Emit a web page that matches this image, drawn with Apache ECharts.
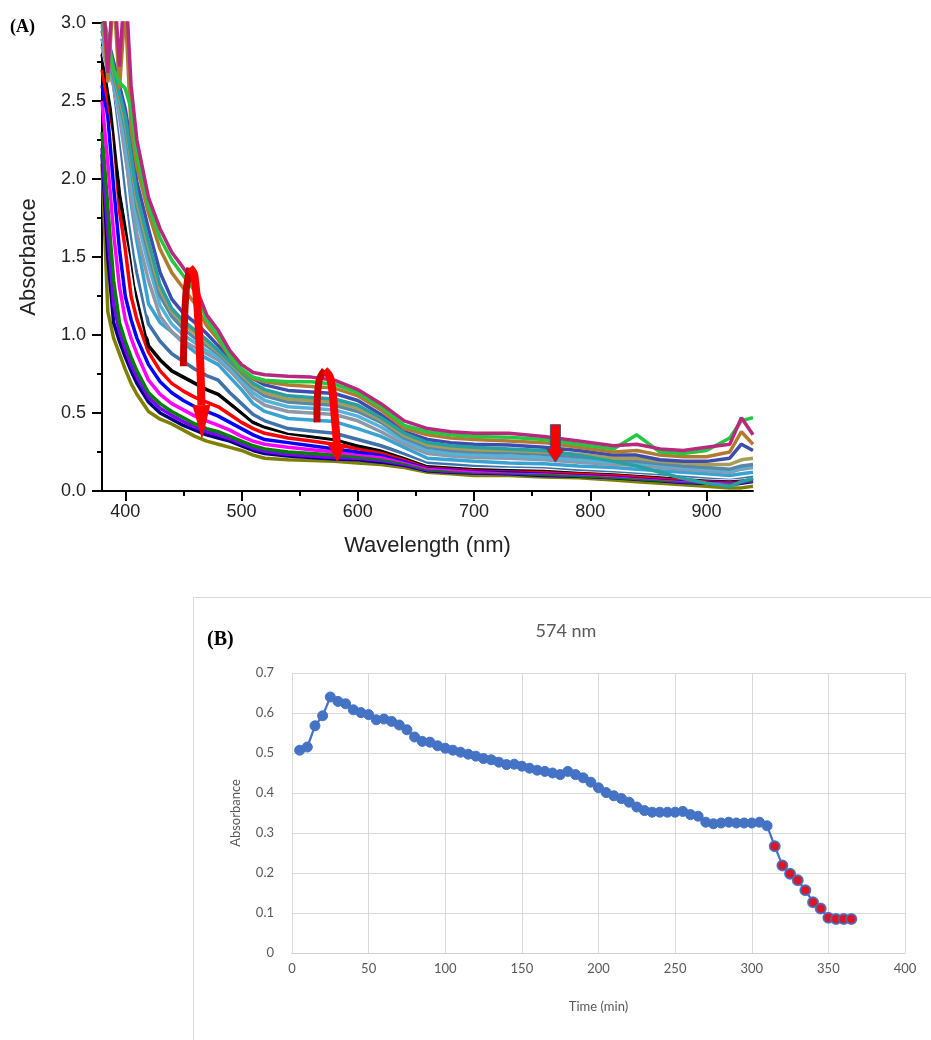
<!DOCTYPE html>
<html><head><meta charset="utf-8">
<script src="https://cdn.jsdelivr.net/npm/echarts@6/dist/echarts.min.js"></script>
<style>html,body{margin:0;padding:0;background:#fff}#c{width:931px;height:1040px}</style>
</head><body><div id="c"></div><script>
// ---------- Panel A: spectra ----------
const wavelengths = [380,385,390,395,400,405,410,420,430,440,450,460,470,480,490,500,510,520,540,560,580,600,620,640,660,680,700,730,760,790,820,840,860,880,900,920,930,940];
const absOlive  = [2.10,1.15,0.98,0.88,0.78,0.69,0.62,0.51,0.46,0.43,0.39,0.35,0.32,0.30,0.28,0.26,0.23,0.21,0.20,0.195,0.19,0.18,0.17,0.15,0.12,0.11,0.10,0.10,0.09,0.085,0.07,0.06,0.05,0.04,0.03,0.02,0.02,0.03];
const absNavy   = [2.16,1.50,1.08,0.96,0.86,0.77,0.69,0.57,0.50,0.46,0.42,0.39,0.36,0.34,0.32,0.29,0.26,0.24,0.225,0.215,0.205,0.20,0.185,0.165,0.13,0.12,0.115,0.11,0.10,0.095,0.085,0.075,0.065,0.055,0.05,0.04,0.05,0.06];
const absViolet = [2.20,1.65,1.20,1.02,0.91,0.81,0.73,0.60,0.53,0.485,0.445,0.41,0.38,0.36,0.335,0.305,0.275,0.255,0.235,0.225,0.215,0.21,0.195,0.172,0.135,0.125,0.12,0.115,0.105,0.10,0.09,0.08,0.07,0.06,0.055,0.045,0.055,0.065];
const absGreen  = [2.30,1.82,1.35,1.08,0.96,0.86,0.77,0.63,0.56,0.51,0.47,0.43,0.40,0.38,0.35,0.32,0.29,0.27,0.25,0.24,0.23,0.22,0.205,0.18,0.14,0.13,0.125,0.12,0.11,0.10,0.09,0.08,0.07,0.065,0.06,0.05,0.06,0.07];
const absMagenta= [2.50,2.10,1.65,1.31,1.10,0.98,0.88,0.71,0.62,0.56,0.52,0.48,0.45,0.42,0.39,0.35,0.32,0.30,0.28,0.265,0.25,0.235,0.22,0.19,0.15,0.14,0.13,0.125,0.12,0.11,0.10,0.09,0.08,0.07,0.065,0.06,0.07,0.08];
const absBlue   = [2.60,2.40,1.95,1.55,1.25,1.10,0.98,0.81,0.70,0.63,0.58,0.54,0.51,0.48,0.44,0.40,0.36,0.33,0.31,0.29,0.27,0.25,0.235,0.20,0.16,0.15,0.14,0.13,0.125,0.115,0.105,0.095,0.085,0.075,0.07,0.065,0.07,0.08];
const absRed    = [2.70,2.50,2.30,1.80,1.55,1.25,1.10,0.89,0.77,0.69,0.64,0.60,0.57,0.54,0.49,0.44,0.40,0.37,0.34,0.32,0.30,0.27,0.25,0.21,0.165,0.155,0.145,0.14,0.13,0.12,0.11,0.10,0.09,0.08,0.075,0.07,0.075,0.085];
const absBlack  = [2.80,2.60,2.31,1.90,1.70,1.50,1.25,0.93,0.84,0.77,0.73,0.69,0.65,0.62,0.56,0.50,0.44,0.41,0.37,0.35,0.33,0.29,0.265,0.22,0.17,0.16,0.15,0.145,0.14,0.13,0.12,0.11,0.10,0.09,0.08,0.075,0.08,0.09];
const absWhite1 = [2.85,2.68,2.45,2.10,1.82,1.58,1.32,1.00,0.90,0.82,0.78,0.73,0.69,0.66,0.59,0.53,0.465,0.43,0.385,0.368,0.35,0.31,0.278,0.23,0.178,0.168,0.158,0.152,0.148,0.135,0.125,0.115,0.105,0.095,0.085,0.08,0.085,0.095];
const absSteel  = [2.90,2.75,2.60,2.30,1.95,1.65,1.40,1.07,0.96,0.88,0.83,0.78,0.74,0.71,0.63,0.56,0.49,0.45,0.40,0.385,0.37,0.33,0.29,0.24,0.185,0.175,0.165,0.16,0.155,0.14,0.13,0.12,0.11,0.10,0.09,0.085,0.09,0.10];
const absWhite2 = [2.92,2.80,2.62,2.38,2.08,1.75,1.50,1.14,1.02,0.95,0.89,0.84,0.79,0.76,0.68,0.61,0.53,0.48,0.43,0.42,0.41,0.37,0.32,0.26,0.20,0.19,0.18,0.17,0.165,0.15,0.14,0.13,0.12,0.11,0.10,0.09,0.10,0.11];
const absLtBlue = [2.95,2.85,2.65,2.45,2.20,1.85,1.60,1.20,1.08,1.02,0.95,0.89,0.85,0.81,0.73,0.65,0.56,0.51,0.465,0.455,0.445,0.40,0.35,0.28,0.21,0.20,0.19,0.18,0.175,0.16,0.15,0.14,0.13,0.12,0.11,0.10,0.11,0.12];
const absGray   = [2.85,2.70,2.60,2.40,2.15,1.90,1.65,1.35,1.12,1.02,0.96,0.92,0.88,0.84,0.77,0.69,0.60,0.55,0.51,0.50,0.49,0.45,0.38,0.30,0.24,0.225,0.215,0.21,0.20,0.185,0.17,0.165,0.15,0.14,0.13,0.12,0.14,0.15];
const absSky    = [2.90,2.75,2.62,2.45,2.25,2.00,1.75,1.45,1.19,1.07,1.00,0.95,0.90,0.86,0.79,0.71,0.63,0.58,0.54,0.53,0.52,0.48,0.41,0.32,0.26,0.24,0.23,0.225,0.215,0.20,0.185,0.18,0.165,0.15,0.14,0.13,0.15,0.16];
const absSlate  = [2.95,2.80,2.65,2.50,2.32,2.08,1.82,1.52,1.25,1.12,1.04,0.98,0.93,0.88,0.81,0.73,0.66,0.61,0.57,0.56,0.55,0.51,0.44,0.34,0.28,0.26,0.25,0.245,0.235,0.22,0.20,0.19,0.175,0.16,0.15,0.14,0.16,0.17];
const absKhaki  = [2.98,2.82,2.68,2.52,2.36,2.12,1.86,1.56,1.29,1.15,1.07,1.01,0.95,0.89,0.82,0.745,0.675,0.63,0.59,0.58,0.57,0.53,0.455,0.355,0.295,0.275,0.265,0.26,0.25,0.235,0.21,0.21,0.19,0.18,0.17,0.17,0.20,0.21];
const absRoyal  = [3.05,2.90,2.75,2.60,2.45,2.22,1.98,1.68,1.40,1.23,1.14,1.08,1.01,0.93,0.85,0.78,0.72,0.68,0.645,0.635,0.625,0.58,0.49,0.38,0.33,0.31,0.30,0.295,0.28,0.26,0.23,0.23,0.20,0.19,0.19,0.21,0.30,0.26];
const absTeal   = [3.00,2.85,2.70,2.55,2.40,2.15,1.90,1.60,1.32,1.17,1.09,1.03,0.97,0.90,0.83,0.76,0.69,0.65,0.61,0.60,0.59,0.55,0.47,0.37,0.31,0.29,0.28,0.27,0.26,0.23,0.19,0.16,0.12,0.08,0.05,0.03,0.06,0.08];
const absBrown  = [3.20,2.62,3.20,2.58,3.10,2.32,2.08,1.78,1.55,1.40,1.30,1.20,1.06,0.97,0.86,0.77,0.72,0.70,0.68,0.67,0.66,0.61,0.52,0.40,0.36,0.34,0.33,0.32,0.31,0.28,0.25,0.26,0.23,0.22,0.22,0.25,0.38,0.30];
const absLime   = [3.10,2.90,2.70,2.62,2.58,2.45,2.15,1.83,1.62,1.48,1.38,1.28,1.10,0.99,0.87,0.78,0.73,0.71,0.70,0.70,0.685,0.63,0.54,0.42,0.38,0.36,0.35,0.345,0.33,0.30,0.27,0.36,0.25,0.24,0.26,0.34,0.45,0.47];
const absWine   = [3.30,2.68,3.30,2.72,3.30,2.60,2.25,1.88,1.68,1.53,1.43,1.32,1.13,1.03,0.90,0.81,0.76,0.745,0.735,0.73,0.71,0.65,0.56,0.45,0.40,0.38,0.37,0.37,0.35,0.32,0.29,0.30,0.27,0.26,0.28,0.30,0.47,0.36];

const xTicksA = [400,500,600,700,800,900];
const xMinorTicksA = [450,550,650,750,850];

// annotation arrows (data coordinates)
const arrowShafts = [
  [[450,0.80],[452,1.25],[455.5,1.43],[459.5,1.38],[463.5,1.00],[465.5,0.55]],
  [[565,0.44],[566.5,0.70],[571.5,0.775],[576.5,0.72],[580.5,0.45],[582,0.30]],
  [[770,0.425],[770,0.27]]
];
const arrowTips = [[466,0.33],[582.5,0.185],[770,0.185]];
const arrowKinds = ['curved','curved','block'];

// ---------- Panel B: 574 nm kinetics ----------
const timeMin = [5,10,15,20,25,30,35,40,45,50,55,60,65,70,75,80,85,90,95,100,105,110,115,120,125,130,135,140,145,150,155,160,165,170,175,180,185,190,195,200,205,210,215,220,225,230,235,240,245,250,255,260,265,270,275,280,285,290,295,300,305,310,315,320,325,330,335,340,345,350,355,360,365];
const abs574 = [0.507,0.515,0.568,0.593,0.640,0.629,0.623,0.608,0.601,0.596,0.583,0.585,0.579,0.570,0.558,0.540,0.529,0.527,0.518,0.512,0.507,0.502,0.497,0.492,0.486,0.483,0.477,0.471,0.472,0.467,0.462,0.457,0.454,0.450,0.446,0.454,0.446,0.438,0.427,0.413,0.401,0.393,0.386,0.377,0.365,0.356,0.352,0.352,0.352,0.352,0.354,0.346,0.342,0.327,0.323,0.325,0.327,0.325,0.325,0.325,0.327,0.318,0.267,0.219,0.198,0.182,0.157,0.127,0.111,0.088,0.085,0.085,0.085];
const redFromTime = 315;

// ---------- build ----------
const spectra = [
  [absOlive,'#808000'],[absNavy,'#000080'],[absViolet,'#8000ff'],[absGreen,'#008000'],
  [absMagenta,'#ff00ff'],[absBlue,'#0000ff'],[absRed,'#ff0000'],[absBlack,'#000000'],
  [absWhite1,'#ffffff'],[absSteel,'#3f72aa'],[absWhite2,'#ffffff'],[absLtBlue,'#38a2d2'],
  [absGray,'#8d97a8'],[absSky,'#55b3d8'],[absSlate,'#5a86aa'],[absKhaki,'#a39e58'],
  [absRoyal,'#3d4cb0'],[absTeal,'#28a0a0'],[absBrown,'#b27a30'],[absLime,'#22c83f'],[absWine,'#b8287c']
];

const series = spectra.map(([arr,color],i)=>({
  type:'line', xAxisIndex:0, yAxisIndex:0, data: wavelengths.map((w,j)=>[w,arr[j]]),
  showSymbol:false, symbol:'none', lineStyle:{color, width:3.5}, z:2, silent:true, animation:false
}));

function renderArrow(params, api){
  const k = api.value(2);
  const pts = arrowShafts[k].map(p=>api.coord(p));
  const tip = api.coord(arrowTips[k]);
  const base = pts[pts.length-1];
  const dx = tip[0]-base[0], dy = tip[1]-base[1];
  const len = Math.hypot(dx,dy)||1; const nx=-dy/len, ny=dx/len;
  const ch = [];
  if (arrowKinds[k]==='curved'){
    ch.push({type:'polyline', shape:{points:pts.slice(0,3), smooth:0.4}, style:{stroke:'#c80000', lineWidth:7, fill:null}});
    ch.push({type:'polyline', shape:{points:pts.slice(2), smooth:0.4}, style:{stroke:'#ff0000', lineWidth:8, fill:null}});
    ch.push({type:'polygon', shape:{points:[[base[0]+nx*9,base[1]+ny*9],[base[0]-nx*9,base[1]-ny*9],tip]}, style:{fill:'#ff0000'}});
  } else {
    const top = pts[0], hw=5, hh=9;
    ch.push({type:'polygon', shape:{points:[[top[0]-hw,top[1]],[top[0]+hw,top[1]],[base[0]+hw,base[1]],[base[0]+hh,base[1]],tip,[base[0]-hh,base[1]],[base[0]-hw,base[1]]]},
      style:{fill:'#ff0000', stroke:'#46507c', lineWidth:1}});
  }
  return {type:'group', children:ch};
}
series.push({type:'custom', xAxisIndex:0, yAxisIndex:0, renderItem:renderArrow,
  data: arrowShafts.map((s,i)=>[s[0][0], s[0][1], i]), encode:{x:0,y:1}, z:5, silent:true, animation:false});

const blue = '#4472c4';
series.push({type:'line', xAxisIndex:2, yAxisIndex:1, data: timeMin.map((t,i)=>[t,abs574[i]]),
  symbol:'circle', symbolSize:10, showSymbol:true, lineStyle:{color:blue,width:2.25}, itemStyle:{color:blue, borderColor:blue, borderWidth:1}, animation:false, z:3});
series.push({type:'scatter', xAxisIndex:2, yAxisIndex:1,
  data: timeMin.map((t,i)=>[t,abs574[i]]).filter(d=>d[0]>=redFromTime),
  symbol:'circle', symbolSize:10, itemStyle:{color:'#ff0000', borderColor:blue, borderWidth:2}, animation:false, z:4});

const fA = 'Liberation Sans, Arial, sans-serif';
const fB = 'Lato, Open Sans, sans-serif';
const option = {
  backgroundColor:'#fff',
  animation:false,
  grid:[
    {left:102, top:23, width:651, height:468},
    {left:292, top:673, width:613, height:280}
  ],
  xAxis:[
    {type:'value', gridIndex:0, min:380, max:940, position:'bottom',
     name:'Wavelength (nm)', nameLocation:'middle', nameGap:44,
     nameTextStyle:{fontFamily:fA, fontSize:22, color:'#222'},
     axisLine:{show:true, onZero:false, lineStyle:{color:'#000', width:2}},
     axisTick:{show:true, customValues:xTicksA, length:10, lineStyle:{color:'#000', width:2}},
     axisLabel:{show:true, customValues:xTicksA, fontFamily:fA, fontSize:18, color:'#222', margin:12},
     splitLine:{show:false}},
    {type:'value', gridIndex:0, min:380, max:940, position:'bottom', offset:0,
     axisLine:{show:false}, axisLabel:{show:false}, splitLine:{show:false},
     axisTick:{show:true, customValues:xMinorTicksA, length:5, lineStyle:{color:'#000', width:2}}},
    {type:'value', gridIndex:1, min:0, max:400, interval:50, position:'bottom',
     name:'Time (min)', nameLocation:'middle', nameGap:47,
     nameTextStyle:{fontFamily:fB, fontSize:13, color:'#595959'},
     axisLine:{show:true, onZero:false, lineStyle:{color:'#d0d0d0', width:1}},
     axisTick:{show:false},
     axisLabel:{fontFamily:fB, fontSize:13, color:'#595959', margin:9},
     splitLine:{show:true, lineStyle:{color:'#d9d9d9', width:1}}}
  ],
  yAxis:[
    {type:'value', gridIndex:0, min:0, max:3, interval:0.5,
     name:'Absorbance', nameLocation:'middle', nameGap:62,
     nameTextStyle:{fontFamily:fA, fontSize:22, color:'#222'},
     axisLine:{show:true, onZero:false, lineStyle:{color:'#000', width:2}},
     axisTick:{show:true, length:10, lineStyle:{color:'#000', width:2}},
     minorTick:{show:true, splitNumber:2, length:5, lineStyle:{color:'#000', width:2}},
     axisLabel:{fontFamily:fA, fontSize:18, color:'#222', margin:16, formatter:v=>v.toFixed(1)},
     splitLine:{show:false}},
    {type:'value', gridIndex:1, min:0, max:0.7, interval:0.1,
     name:'Absorbance', nameLocation:'middle', nameGap:50,
     nameTextStyle:{fontFamily:fB, fontSize:13, color:'#595959'},
     axisLine:{show:false}, axisTick:{show:false},
     axisLabel:{fontFamily:fB, fontSize:13, color:'#595959', margin:18, formatter:v=>v===0?'0':v.toFixed(1)},
     splitLine:{show:true, lineStyle:{color:'#d9d9d9', width:1}}}
  ],
  graphic:[
    {type:'rect', left:193, top:597, z:-10, shape:{width:800, height:500}, style:{fill:'#fff', stroke:'#d9d9d9', lineWidth:1}},
    {type:'text', left:10, top:18, style:{text:'(A)', font:'bold 18px "Liberation Serif", "Times New Roman", serif', fill:'#000'}},
    {type:'text', left:207, top:630, style:{text:'(B)', font:'bold 20px "Liberation Serif", "Times New Roman", serif', fill:'#000'}},
    {type:'text', x:566, y:631, style:{text:'574 nm', font:'18px Lato, "Open Sans", sans-serif', fill:'#595959', textAlign:'center', textVerticalAlign:'middle'}}
  ],
  series
};
const chart = echarts.init(document.getElementById('c'), null, {renderer:'canvas'});
chart.setOption(option);
</script></body></html>
